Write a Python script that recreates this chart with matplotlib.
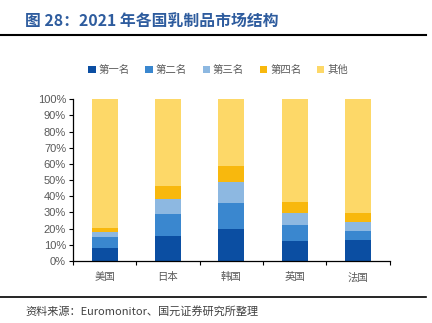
import matplotlib
matplotlib.use('Agg')
import matplotlib.pyplot as plt
import numpy as np
from matplotlib.patches import Patch

plt.rcParams['font.family'] = ['Noto Sans CJK SC', 'DejaVu Sans']

countries = ['美国', '日本', '韩国', '英国', '法国']
series_names = ['第一名', '第二名', '第三名', '第四名', '其他']
first = [8.2, 15.6, 20.0, 12.6, 13.2]
second = [6.6, 13.2, 15.8, 9.6, 5.5]
third = [3.1, 9.5, 13.2, 7.4, 5.6]
fourth = [2.7, 8.0, 9.4, 6.8, 5.1]
others = [100 - a - b - c - d for a, b, c, d in zip(first, second, third, fourth)]
colors = ['#0B4EA2', '#3A87CF', '#8DB8E1', '#F8B80D', '#FDD868']

fig = plt.figure(figsize=(4.32, 3.23), dpi=100)
ax = fig.add_axes([0.169, 0.192, 0.733, 0.501])

x = np.arange(len(countries))
bottom = np.zeros(len(countries))
for vals, c in zip([first, second, third, fourth, others], colors):
    ax.bar(x, vals, 0.41, bottom=bottom, color=c, edgecolor='none')
    bottom += np.array(vals)

ax.set_xlim(-0.5, len(countries) - 0.5)
ax.set_ylim(0, 100)
ax.set_yticks(np.arange(0, 101, 10))
ax.set_yticklabels([f'{v}%' for v in range(0, 101, 10)],
                   family=['Liberation Sans', 'DejaVu Sans'], fontsize=8, color='#595959')
ax.set_xticks(x)
ax.set_xticklabels(countries, fontsize=7.5, color='#595959')
ax.tick_params(axis='x', length=0, pad=8)
ax.set_xticks(np.arange(-0.5, len(countries)), minor=True)
ax.tick_params(axis='x', which='minor', length=3, width=0.8, direction='out')
ax.tick_params(axis='y', length=3, width=0.8, pad=2)
for s in ['top', 'right']:
    ax.spines[s].set_visible(False)
ax.spines['left'].set_linewidth(0.9)
ax.spines['bottom'].set_linewidth(0.9)

handles = [Patch(facecolor=c, edgecolor='none') for c in colors]
fig.legend(handles, series_names, loc='center', bbox_to_anchor=(0.505, 0.783), ncol=5,
           frameon=False, fontsize=7.5, handlelength=0.7, handleheight=0.7,
           handletextpad=0.3, columnspacing=1.5, labelcolor='#595959')

fig.text(0.058, 0.935, '图 28：2021 年各国乳制品市场结构', fontsize=11.4, fontweight='bold',
         color='#2E5C9E', va='center')
fig.add_artist(plt.Line2D([0.0, 0.985], [0.893, 0.893], color='black', lw=1.5))
fig.add_artist(plt.Line2D([0.0, 0.985], [0.081, 0.081], color='black', lw=1.2))
fig.text(0.058, 0.035, '资料来源：Euromonitor、国元证券研究所整理', fontsize=8,
         color='#404040', va='center')

fig.savefig('out.png', dpi=100)
